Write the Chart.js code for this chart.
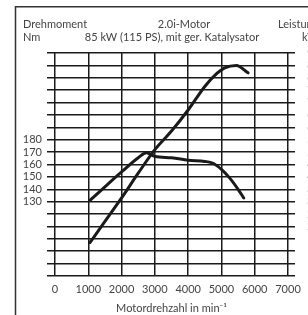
<!DOCTYPE html>
<html>
<head>
<meta charset="utf-8">
<script src="https://cdn.jsdelivr.net/npm/chart.js@4"></script>
<style>
  html, body { margin: 0; padding: 0; background: #fff; overflow: hidden; }
  #wrap { width: 340px; height: 315px; }
</style>
</head>
<body>
<div id="wrap"><canvas id="engineChart" width="340" height="315"></canvas></div>
<script>
// Drehmoment (Nm) over Motordrehzahl (min^-1)
const rpmTorque = [1050, 1500, 2000, 2500, 2750, 3000, 3500, 4000, 4500, 4750, 5000, 5250, 5500, 5670];
const torqueNm = [131, 142, 154, 165.5, 169.5, 166.5, 165.5, 163.5, 162.5, 161, 156, 149, 140, 133];

// Leistung (kW) over Motordrehzahl
const rpmPower = [1050, 1500, 2000, 2500, 3000, 3500, 4000, 4500, 4800, 5100, 5450, 5800];
const powerKw = [13.5, 22, 31.5, 41.5, 51, 58.5, 67, 76.5, 81, 84, 85, 82];

const rpmTicks = [0, 1000, 2000, 3000, 4000, 5000, 6000, 7000];
const torqueLabels = [130, 140, 150, 160, 170, 180];

const ink = "#1a1a1a";
const textGray = "#444";
const fontFamily = "Lato, 'Open Sans', sans-serif";

const toPoints = (xs, ys) => xs.map((x, i) => ({ x, y: ys[i] }));

const headerPlugin = {
  id: "header",
  afterDraw(chart) {
    const { ctx } = chart;
    ctx.save();
    // frame
    ctx.strokeStyle = "#333";
    ctx.lineWidth = 1.5;
    ctx.beginPath();
    ctx.moveTo(15.5, 340);
    ctx.lineTo(15.5, 6.75);
    ctx.lineTo(340, 6.75);
    ctx.stroke();

    ctx.fillStyle = textGray;
    ctx.font = `11px ${fontFamily}`;
    ctx.textBaseline = "middle";
    ctx.textAlign = "left";
    ctx.fillText("Drehmoment", 23, 24);
    ctx.fillText("Nm", 23, 37.5);
    ctx.fillText("Leistung", 278, 24);
    ctx.fillText("kW", 302, 37.5);
    ctx.textAlign = "center";
    ctx.fillText("2.0i-Motor", 184, 24);
    ctx.fillText("85 kW (115 PS), mit ger. Katalysator", 172, 37.5);
    ctx.restore();
  }
};

new Chart(document.getElementById("engineChart").getContext("2d"), {
  type: "line",
  data: {
    datasets: [
      {
        label: "Drehmoment",
        data: toPoints(rpmTorque, torqueNm),
        yAxisID: "y",
        borderColor: ink,
        borderWidth: 3,
        borderCapStyle: "round",
        cubicInterpolationMode: "monotone",
        pointRadius: 0,
        fill: false
      },
      {
        label: "Leistung",
        data: toPoints(rpmPower, powerKw),
        yAxisID: "yPower",
        borderColor: ink,
        borderWidth: 3,
        borderCapStyle: "round",
        cubicInterpolationMode: "monotone",
        pointRadius: 0,
        fill: false
      }
    ]
  },
  options: {
    responsive: false,
    animation: false,
    devicePixelRatio: 1,
    layout: { padding: { left: 0, right: 0, top: 53, bottom: 0 } },
    plugins: {
      legend: { display: false },
      tooltip: { enabled: false }
    },
    scales: {
      x: {
        type: "linear",
        min: 0,
        max: 7000,
        afterBuildTicks: (axis) => {
          axis.ticks = rpmTicks.map((value) => ({ value }));
        },
        afterFit: (axis) => {
          axis.height = 39;
        },
        grid: { color: ink, lineWidth: 1.5, drawTicks: false },
        border: { display: false },
        ticks: {
          color: textGray,
          font: { family: fontFamily, size: 11 },
          padding: 7,
          maxRotation: 0,
          autoSkip: false,
          callback: (value) => String(value)
        },
        title: {
          display: true,
          text: "Motordrehzahl in min⁻¹",
          color: textGray,
          font: { family: fontFamily, size: 11 },
          padding: { top: 1, bottom: 0 }
        }
      },
      y: {
        position: "left",
        min: 70,
        max: 250,
        afterFit: (axis) => {
          axis.width = 55;
        },
        grid: { color: ink, lineWidth: 1.5, tickLength: 8, tickColor: ink },
        border: { display: false },
        ticks: {
          stepSize: 10,
          autoSkip: false,
          color: textGray,
          font: { family: fontFamily, size: 11 },
          padding: 5,
          callback: (value) => (torqueLabels.includes(value) ? String(value) : "")
        }
      },
      yPower: {
        position: "right",
        min: 0,
        max: 90,
        afterFit: (axis) => {
          axis.width = 52;
        },
        grid: { drawOnChartArea: false, color: ink, lineWidth: 1.5, tickLength: 7 },
        border: { display: false },
        ticks: {
          stepSize: 5,
          autoSkip: false,
          color: "#aaa",
          font: { family: fontFamily, size: 11 },
          padding: 12,
          callback: (value) => (value >= 20 ? String(value) : "")
        }
      }
    }
  },
  plugins: [headerPlugin]
});
</script>
</body>
</html>
